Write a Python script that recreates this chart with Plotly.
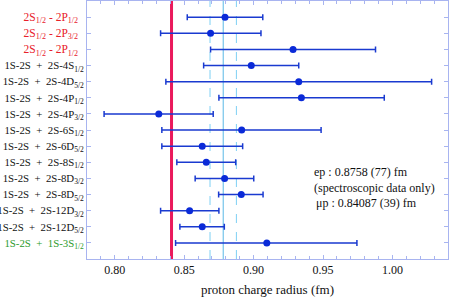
import plotly.graph_objects as go

NB = "\u00a0"
labels = [
    "2S<sub>1/2</sub> - 2P<sub>1/2</sub>",
    "2S<sub>1/2</sub> - 2P<sub>3/2</sub>",
    "2S<sub>1/2</sub> - 2P<sub>1/2</sub>",
    "1S-2S  +  2S-4S<sub>1/2</sub>",
    "1S-2S  +  2S-4D<sub>5/2</sub>",
    "1S-2S  +  2S-4P<sub>1/2</sub>",
    "1S-2S  +  2S-4P<sub>3/2</sub>",
    "1S-2S  +  2S-6S<sub>1/2</sub>",
    "1S-2S  +  2S-6D<sub>5/2</sub>",
    "1S-2S  +  2S-8S<sub>1/2</sub>",
    "1S-2S  +  2S-8D<sub>3/2</sub>",
    "1S-2S  +  2S-8D<sub>5/2</sub>",
    "1S-2S  +  2S-12D<sub>3/2</sub>",
    "1S-2S  +  2S-12D<sub>5/2</sub>",
    "1S-2S  +  1S-3S<sub>1/2</sub>",
]
label_colors = ["#e8202a"] * 3 + ["#111111"] * 11 + ["#2a9a2a"]

radius = [0.8794, 0.8690, 0.9284, 0.8983, 0.9325, 0.9344, 0.8317, 0.8914,
          0.8630, 0.8659, 0.8791, 0.8911, 0.8539, 0.8630, 0.9095]
err_minus = [0.0272, 0.0360, 0.0594, 0.0343, 0.0957, 0.0594, 0.0394, 0.0575,
             0.0291, 0.0212, 0.0212, 0.0163, 0.0209, 0.0161, 0.0657]
err_plus = [0.0272, 0.0363, 0.0594, 0.0342, 0.0957, 0.0597, 0.0392, 0.0572,
            0.0291, 0.0212, 0.0210, 0.0157, 0.0211, 0.0159, 0.0649]

MU_P = 0.84087
EP_CENTER = 0.8781
EP_HALF = 0.0095

SERIF = "Liberation Serif"

rows = list(range(1, len(labels) + 1))
ticktext = []
for t, c in zip(labels, label_colors):
    t = t.replace("  ", NB + NB)
    if c == "#e8202a":
        t = t + NB + NB
        ticktext.append(f"<span style='color:{c};font-size:11.5px'>{t}</span>")
    else:
        ticktext.append(f"<span style='color:{c}'>{t}</span>")

fig = go.Figure()
fig.add_trace(go.Scatter(
    x=radius, y=rows, mode="markers",
    marker=dict(color="#0a2ad8", size=7),
    error_x=dict(type="data", symmetric=False, array=err_plus, arrayminus=err_minus,
                 color="#1a3ad0", thickness=1.5, width=3),
    showlegend=False, hoverinfo="skip",
))

shapes = [
    dict(type="line", xref="x", yref="paper", x0=EP_CENTER - EP_HALF, x1=EP_CENTER - EP_HALF,
         y0=0, y1=1, line=dict(color="#7fd0f4", width=1, dash="dash"), layer="below"),
    dict(type="line", xref="x", yref="paper", x0=EP_CENTER + EP_HALF, x1=EP_CENTER + EP_HALF,
         y0=0, y1=1, line=dict(color="#7fd0f4", width=1, dash="dash"), layer="below"),
    dict(type="line", xref="x", yref="paper", x0=EP_CENTER, x1=EP_CENTER,
         y0=0, y1=1, line=dict(color="#5ab8e6", width=1), layer="below"),
    dict(type="line", xref="x", yref="paper", x0=MU_P, x1=MU_P,
         y0=0, y1=1, line=dict(color="#ea1a5c", width=3), layer="below"),
]

axis_col = "#a8b4f0"
fig.update_layout(
    width=450, height=297,
    margin=dict(l=87, r=2, t=1, b=38),
    plot_bgcolor="white", paper_bgcolor="white",
    font=dict(family=SERIF, size=12, color="#111111"),
    shapes=shapes,
    xaxis=dict(
        range=[0.78, 1.04], tickvals=[0.80, 0.85, 0.90, 0.95, 1.00],
        ticktext=["0.80", "0.85", "0.90", "0.95", "1.00"],
        ticks="inside", ticklen=4, tickcolor=axis_col,
        minor=dict(dtick=0.01, ticks="inside", ticklen=3, tickcolor=axis_col),
        showline=True, linecolor=axis_col, linewidth=1, mirror="ticks",
        showgrid=False, zeroline=False, automargin=False,
        title=dict(text="proton charge radius (fm)", font=dict(family=SERIF, size=13), standoff=8),
        tickfont=dict(family=SERIF, size=12),
    ),
    yaxis=dict(
        range=[16, 0], tickvals=rows, ticktext=ticktext,
        ticks="inside", ticklen=4, tickcolor=axis_col,
        showline=True, linecolor=axis_col, linewidth=1, mirror="ticks",
        showgrid=False, zeroline=False, automargin=False,
        tickfont=dict(family=SERIF, size=10.8),
    ),
    annotations=[
        dict(xref="paper", yref="paper", x=(312 - 87) / 361, y=(259 - 180) / 258,
             xanchor="left", yanchor="middle", align="left", showarrow=False,
             text="ep : 0.8758 (77) fm<br>(spectroscopic data only)",
             font=dict(family=SERIF, size=12)),
        dict(xref="paper", yref="paper", x=(314 - 87) / 361, y=(259 - 203) / 258,
             xanchor="left", yanchor="middle", align="left", showarrow=False,
             text="μp : 0.84087 (39) fm", font=dict(family=SERIF, size=12)),
    ],
)

fig.write_html("out.html", config={"displayModeBar": False},
               post_script="document.body.style.margin='0';")
